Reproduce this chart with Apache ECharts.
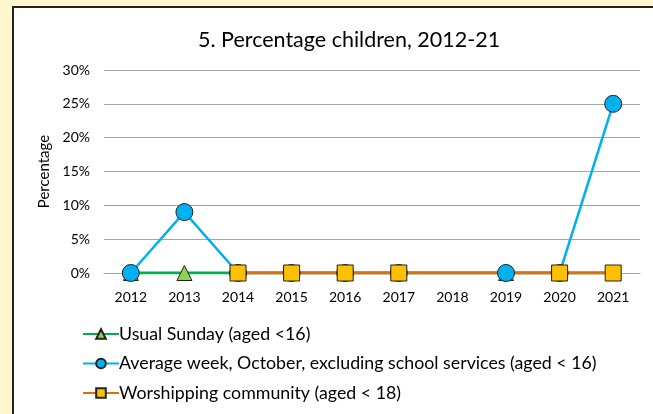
<!DOCTYPE html>
<html><head><meta charset="utf-8">
<script src="https://cdn.jsdelivr.net/npm/echarts@6/dist/echarts.min.js"></script>
<style>
html,body{margin:0;padding:0;background:#FFF6CE;width:653px;height:414px;overflow:hidden;}
#panel{position:absolute;left:12px;top:6px;width:660px;height:430px;background:#fff;border-left:2px solid #222;border-top:2px solid #222;}
#chart{position:absolute;left:0;top:0;width:653px;height:414px;}
</style></head>
<body>
<div id="panel"></div>
<div id="chart"></div>
<script>
const categories = ['2012','2013','2014','2015','2016','2017','2018','2019','2020','2021'];
const usualSunday = [0, 0, 0, 0, 0, 0, null, 0, 0, 0];
const averageWeek = [0, 9, 0, 0, 0, 0, null, 0, 0, 25];
const worshipping = [null, null, 0, 0, 0, 0, null, null, 0, 0];
const yTicks = [0, 5, 10, 15, 20, 25, 30];

const names = ['Usual Sunday (aged <16)', 'Average week, October, excluding school services (aged < 16)', 'Worshipping community (aged < 18)'];
const FONT = 'Lato, "Open Sans", sans-serif';

const styles = [
  {data: usualSunday, symbol: 'triangle', size: 15, line: '#00B050', lw: 3, fill: '#92D050'},
  {data: averageWeek, symbol: 'circle', size: 17, line: '#00B0F0', lw: 2.5, fill: '#00B0F0'},
  {data: worshipping, symbol: 'rect', size: 16, line: '#E46C0A', lw: 3, fill: '#FFC000'}
];
const lineSeries = styles.map((s, i) => ({
  name: names[i], type: 'line', data: s.data, connectNulls: true, z: 2,
  symbol: s.symbol, symbolSize: s.size, showSymbol: false,
  lineStyle: {color: s.line, width: s.lw},
  itemStyle: {color: s.fill, borderColor: '#222', borderWidth: 1}
}));
const markerSeries = styles.map((s, i) => ({
  name: names[i], type: 'line', data: s.data, connectNulls: false, z: 3,
  symbol: s.symbol, symbolSize: s.size, showSymbol: true, showAllSymbol: true,
  lineStyle: {width: 0, opacity: 0},
  itemStyle: {color: s.fill, borderColor: '#222', borderWidth: 1}
}));

const chart = echarts.init(document.getElementById('chart'));
chart.setOption({
  backgroundColor: 'transparent',
  animation: false,
  textStyle: {fontFamily: FONT, color: '#000'},
  title: {
    text: '5. Percentage children, 2012-21',
    left: 193, top: 24,
    textStyle: {fontFamily: FONT, fontSize: 21.5, fontWeight: 'normal', color: '#000'}
  },
  grid: {left: 104, right: 13, top: 70, bottom: 141},
  xAxis: {
    type: 'category', data: categories, boundaryGap: true,
    axisLine: {show: true, lineStyle: {color: '#A6A6A6', width: 1}},
    axisTick: {show: false},
    axisLabel: {color: '#000', fontSize: 14, margin: 17, fontFamily: FONT}
  },
  yAxis: {
    type: 'value', min: yTicks[0], max: yTicks[yTicks.length-1], interval: 5,
    name: 'Percentage', nameLocation: 'middle', nameRotate: 90, nameGap: 49,
    nameTextStyle: {fontSize: 15, color: '#000', fontFamily: FONT},
    axisLine: {show: false}, axisTick: {show: false},
    axisLabel: {formatter: '{value}%', color: '#000', fontSize: 14, margin: 14, fontFamily: FONT},
    splitLine: {lineStyle: {color: '#A6A6A6', width: 1}}
  },
  legend: {
    orient: 'vertical', left: 77, top: 320, itemGap: 11.5,
    itemWidth: 36, itemHeight: 12,
    textStyle: {fontSize: 17.8, color: '#000', fontFamily: FONT, padding: [0,0,0,-5]},
    data: names
  },
  series: lineSeries.concat(markerSeries)
});
</script>
</body></html>
